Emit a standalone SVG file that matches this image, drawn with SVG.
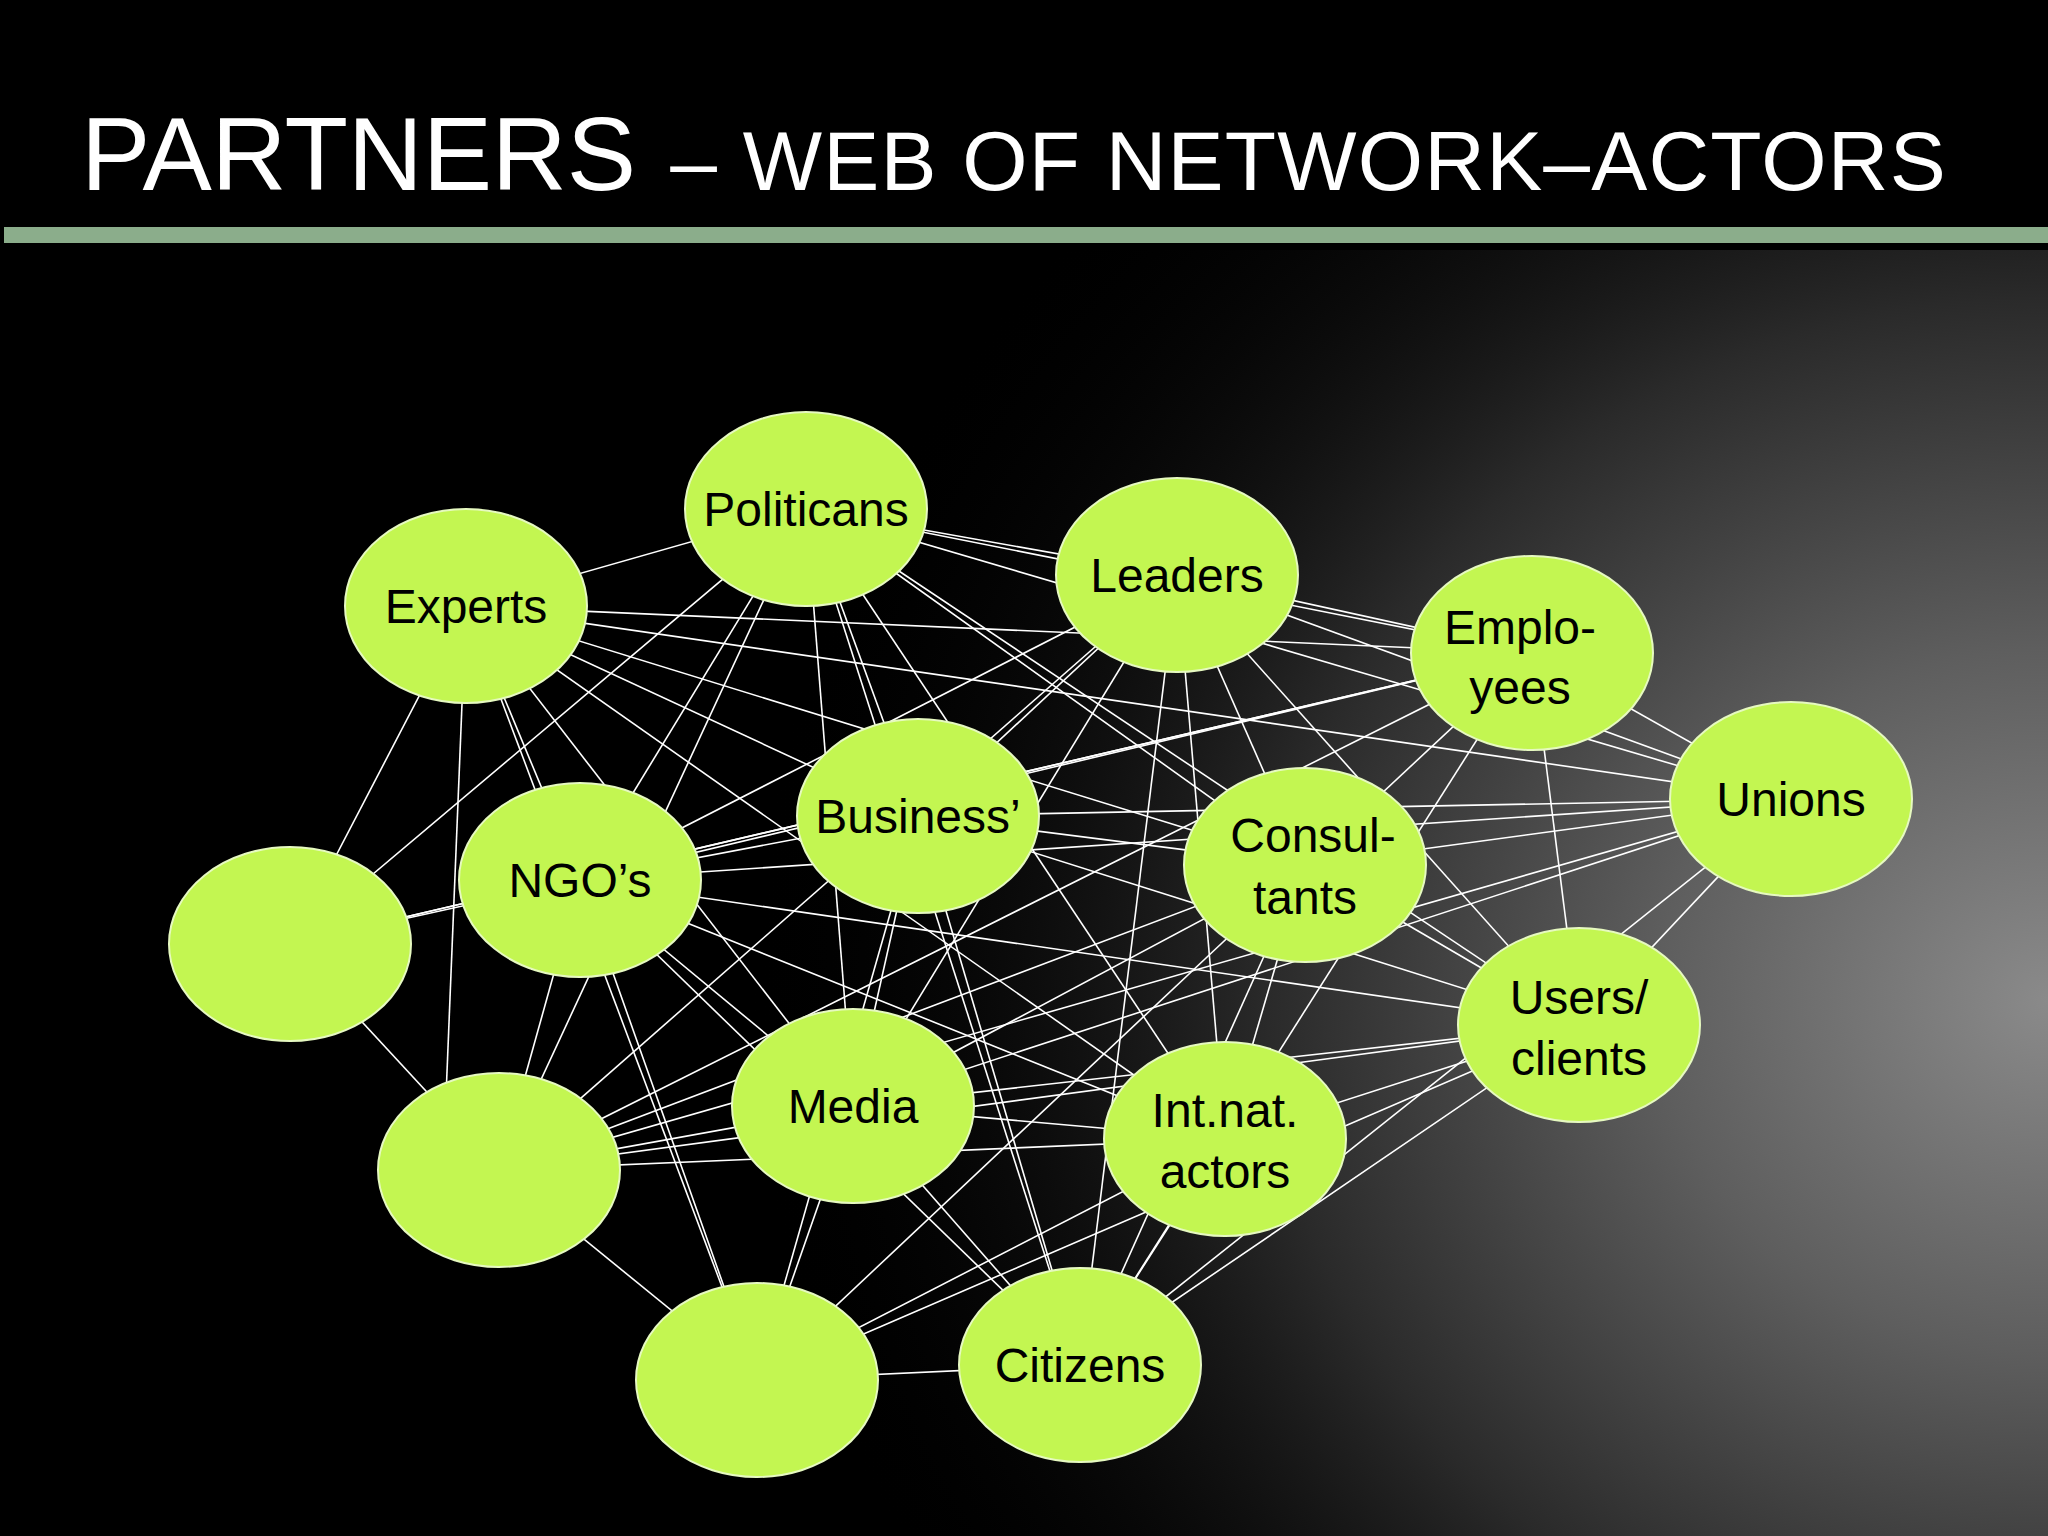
<svg xmlns="http://www.w3.org/2000/svg" width="2048" height="1536" viewBox="0 0 2048 1536">
<defs>
<radialGradient id="g" cx="2048" cy="1000" r="1300" gradientUnits="userSpaceOnUse" gradientTransform="translate(2048 1000) scale(1 0.9) translate(-2048 -1000)">
<stop offset="0" stop-color="#8a8a8a"/><stop offset="0.3" stop-color="#5e5e5e"/><stop offset="0.6" stop-color="#2a2a2a"/><stop offset="1" stop-color="#000" stop-opacity="0"/>
</radialGradient>
<style>
.n{fill:#c3f651;stroke:#e6f9c0;stroke-width:2}
.t{font-family:"Liberation Sans",Arial,sans-serif;font-size:48px;fill:#000;text-anchor:middle}
#edges line{stroke:#fff;stroke-width:1.6}
</style>
</defs>
<rect width="2048" height="1536" fill="#000"/>
<rect y="250" width="2048" height="1286" fill="url(#g)"/>
<text x="81" y="190" font-family="Liberation Sans,Arial,sans-serif" fill="#fff"><tspan font-size="104" textLength="555">PARTNERS</tspan><tspan font-size="84" dx="10" textLength="1300"> – WEB OF NETWORK–ACTORS</tspan></text>
<rect x="4" y="227" width="2044" height="16" fill="#8bad8b"/>
<g id="edges">
<line x1="806" y1="509" x2="466" y2="606"/><line x1="806" y1="509" x2="1177" y2="575"/><line x1="806" y1="509" x2="1532" y2="653"/><line x1="806" y1="509" x2="1791" y2="799"/><line x1="806" y1="509" x2="1305" y2="865"/><line x1="806" y1="509" x2="1579" y2="1025"/><line x1="806" y1="509" x2="1225" y2="1139"/><line x1="806" y1="509" x2="580" y2="880"/><line x1="806" y1="509" x2="290" y2="944"/><line x1="806" y1="509" x2="499" y2="1170"/><line x1="806" y1="509" x2="853" y2="1106"/><line x1="806" y1="509" x2="918" y2="816"/><line x1="806" y1="509" x2="1080" y2="1365"/>
<line x1="466" y1="606" x2="290" y2="944"/><line x1="466" y1="606" x2="580" y2="880"/><line x1="466" y1="606" x2="443" y2="1170"/><line x1="466" y1="606" x2="918" y2="816"/><line x1="466" y1="606" x2="1305" y2="865"/><line x1="466" y1="606" x2="1532" y2="653"/><line x1="466" y1="606" x2="1791" y2="799"/><line x1="466" y1="606" x2="1225" y2="1139"/><line x1="466" y1="606" x2="853" y2="1106"/><line x1="466" y1="606" x2="757" y2="1380"/>
<line x1="1177" y1="575" x2="918" y2="816"/><line x1="1177" y1="575" x2="580" y2="880"/><line x1="1177" y1="575" x2="1532" y2="653"/><line x1="1177" y1="575" x2="1791" y2="799"/><line x1="1177" y1="575" x2="1579" y2="1025"/><line x1="1177" y1="575" x2="1080" y2="1365"/><line x1="1177" y1="575" x2="1225" y2="1139"/><line x1="1177" y1="575" x2="853" y2="1106"/><line x1="1177" y1="575" x2="499" y2="1170"/><line x1="1177" y1="575" x2="1305" y2="865"/>
<line x1="1532" y1="653" x2="1305" y2="865"/><line x1="1532" y1="653" x2="1080" y2="1365"/><line x1="1532" y1="653" x2="1579" y2="1025"/><line x1="1532" y1="653" x2="499" y2="1170"/><line x1="1532" y1="653" x2="580" y2="880"/><line x1="1532" y1="653" x2="1791" y2="799"/><line x1="1532" y1="653" x2="290" y2="944"/>
<line x1="1791" y1="799" x2="1579" y2="1025"/><line x1="1791" y1="799" x2="1080" y2="1365"/><line x1="1791" y1="799" x2="499" y2="1170"/><line x1="1791" y1="799" x2="918" y2="816"/><line x1="1791" y1="799" x2="1305" y2="865"/><line x1="1791" y1="799" x2="853" y2="1106"/><line x1="1791" y1="799" x2="580" y2="880"/>
<line x1="918" y1="816" x2="1305" y2="865"/><line x1="918" y1="816" x2="853" y2="1106"/><line x1="918" y1="816" x2="757" y2="1380"/><line x1="918" y1="816" x2="1080" y2="1365"/><line x1="918" y1="816" x2="580" y2="880"/><line x1="918" y1="816" x2="1579" y2="1025"/>
<line x1="1305" y1="865" x2="853" y2="1106"/><line x1="1305" y1="865" x2="1579" y2="1025"/><line x1="1305" y1="865" x2="1080" y2="1365"/><line x1="1305" y1="865" x2="499" y2="1170"/><line x1="1305" y1="865" x2="1225" y2="1139"/><line x1="1305" y1="865" x2="757" y2="1380"/>
<line x1="580" y1="880" x2="290" y2="944"/><line x1="580" y1="880" x2="1579" y2="1025"/><line x1="580" y1="880" x2="853" y2="1106"/><line x1="580" y1="880" x2="1225" y2="1139"/><line x1="580" y1="880" x2="757" y2="1380"/><line x1="580" y1="880" x2="1080" y2="1365"/><line x1="580" y1="880" x2="499" y2="1170"/>
<line x1="290" y1="944" x2="499" y2="1170"/><line x1="290" y1="944" x2="1532" y2="653"/>
<line x1="1579" y1="1025" x2="853" y2="1106"/><line x1="1579" y1="1025" x2="1225" y2="1139"/><line x1="1579" y1="1025" x2="1080" y2="1365"/><line x1="1579" y1="1025" x2="499" y2="1170"/><line x1="1579" y1="1025" x2="757" y2="1380"/>
<line x1="853" y1="1106" x2="499" y2="1170"/><line x1="853" y1="1106" x2="1225" y2="1139"/><line x1="853" y1="1106" x2="1080" y2="1365"/><line x1="853" y1="1106" x2="757" y2="1380"/>
<line x1="1225" y1="1139" x2="499" y2="1170"/><line x1="1225" y1="1139" x2="1080" y2="1365"/><line x1="1225" y1="1139" x2="757" y2="1380"/>
<line x1="499" y1="1170" x2="757" y2="1380"/><line x1="757" y1="1380" x2="1080" y2="1365"/>
</g>
<g id="politicans"><ellipse class="n" cx="806" cy="509" rx="121" ry="97"/><text class="t" x="806" y="526">Politicans</text></g>
<g id="experts"><ellipse class="n" cx="466" cy="606" rx="121" ry="97"/><text class="t" x="466" y="623">Experts</text></g>
<g id="leaders"><ellipse class="n" cx="1177" cy="575" rx="121" ry="97"/><text class="t" x="1177" y="592">Leaders</text></g>
<g id="employees"><ellipse class="n" cx="1532" cy="653" rx="121" ry="97"/><text class="t" x="1520" y="644">Emplo-</text><text class="t" x="1520" y="704">yees</text></g>
<g id="unions"><ellipse class="n" cx="1791" cy="799" rx="121" ry="97"/><text class="t" x="1791" y="816">Unions</text></g>
<g id="business"><ellipse class="n" cx="918" cy="816" rx="121" ry="97"/><text class="t" x="918" y="833">Business’</text></g>
<g id="consultants"><ellipse class="n" cx="1305" cy="865" rx="121" ry="97"/><text class="t" x="1313" y="852">Consul-</text><text class="t" x="1305" y="914">tants</text></g>
<g id="ngos"><ellipse class="n" cx="580" cy="880" rx="121" ry="97"/><text class="t" x="580" y="897">NGO’s</text></g>
<g id="blank1"><ellipse class="n" cx="290" cy="944" rx="121" ry="97"/></g>
<g id="users"><ellipse class="n" cx="1579" cy="1025" rx="121" ry="97"/><text class="t" x="1579" y="1014">Users/</text><text class="t" x="1579" y="1075">clients</text></g>
<g id="media"><ellipse class="n" cx="853" cy="1106" rx="121" ry="97"/><text class="t" x="853" y="1123">Media</text></g>
<g id="intnat"><ellipse class="n" cx="1225" cy="1139" rx="121" ry="97"/><text class="t" x="1225" y="1127">Int.nat.</text><text class="t" x="1225" y="1188">actors</text></g>
<g id="blank2"><ellipse class="n" cx="499" cy="1170" rx="121" ry="97"/></g>
<g id="blank3"><ellipse class="n" cx="757" cy="1380" rx="121" ry="97"/></g>
<g id="citizens"><ellipse class="n" cx="1080" cy="1365" rx="121" ry="97"/><text class="t" x="1080" y="1382">Citizens</text></g>
</svg>
